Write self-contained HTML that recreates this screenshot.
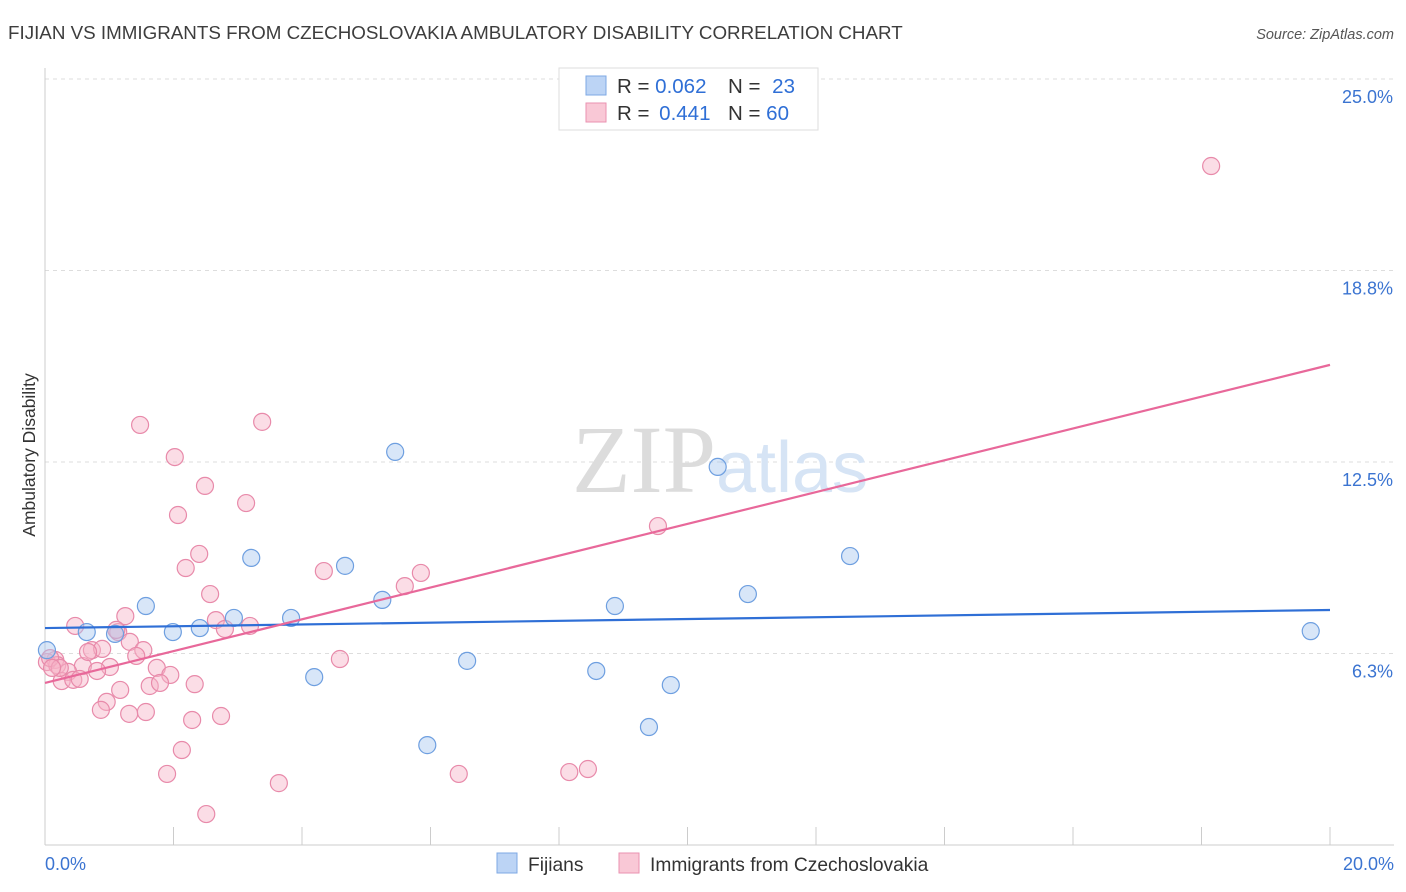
<!DOCTYPE html>
<html><head><meta charset="utf-8"><style>
body{margin:0;background:#fff;font-family:"Liberation Sans",sans-serif;}
#wrap{position:relative;width:1406px;height:892px;overflow:hidden;}
</style></head><body>
<div id="wrap">
<svg id="svg" width="1406" height="892" xmlns="http://www.w3.org/2000/svg">
<text x="8" y="39" font-size="18.8" fill="#3d3d3d">FIJIAN VS IMMIGRANTS FROM CZECHOSLOVAKIA AMBULATORY DISABILITY CORRELATION CHART</text>
<text x="1394" y="39" font-size="14.5" fill="#555" text-anchor="end" font-style="italic">Source: ZipAtlas.com</text>
<text x="35" y="455" font-size="17.5" fill="#333" text-anchor="middle" transform="rotate(-90 35 455)">Ambulatory Disability</text>
<g id="grid"></g>
<text x="720" y="492" font-size="96" fill="#e4e4e4" text-anchor="middle" font-family="Liberation Serif,serif"><tspan fill="#dcdcdc">ZIP</tspan><tspan fill="#d6e4f5" font-family="Liberation Sans,sans-serif" font-size="72">atlas</tspan></text>
<g id="marks"></g>
<g>
<rect x="559" y="68" width="259" height="62" fill="#fff" stroke="#ddd"/>
<rect x="586" y="76" width="20" height="19" fill="#bcd4f5" stroke="#7ea8e4"/>
<rect x="586" y="103" width="20" height="19" fill="#f9c8d6" stroke="#ea92b0"/>
<text x="617" y="93" font-size="20.5" fill="#333">R = <tspan fill="#2f6fd6">0.062</tspan></text>
<text x="728" y="93" font-size="20.5" fill="#333">N = <tspan fill="#2f6fd6" dx="6">23</tspan></text>
<text x="617" y="120" font-size="20.5" fill="#333">R = <tspan fill="#2f6fd6" dx="4">0.441</tspan></text>
<text x="728" y="120" font-size="20.5" fill="#333">N = <tspan fill="#2f6fd6">60</tspan></text>
</g>
<g>
<rect x="497" y="853" width="20" height="20" fill="#bcd4f5" stroke="#7ea8e4"/>
<text x="528" y="871" font-size="19.2" fill="#333">Fijians</text>
<rect x="619" y="853" width="20" height="20" fill="#f9c8d6" stroke="#ea92b0"/>
<text x="650" y="871" font-size="19.2" fill="#333">Immigrants from Czechoslovakia</text>
</g>
</svg>
</div>
<script>
const yTicks=[25,18.75,12.5,6.25];
const yTickLabels=["25.0%","18.8%","12.5%","6.3%"];
const xTicks=[0,2,4,6,8,10,12,14,16,18,20];
const fijianX=[0.03,0.65,1.09,1.57,1.99,2.41,2.94,3.21,3.83,4.19,4.67,5.25,5.45,5.95,6.57,8.58,8.87,9.40,9.74,10.47,10.94,12.53,19.70];
const fijianY=[6.36,6.95,6.89,7.80,6.95,7.08,7.41,9.37,7.41,5.48,9.11,8.00,12.83,3.26,6.01,5.68,7.80,3.85,5.22,12.34,8.19,9.43,6.98];
const czechX=[18.15,9.54,3.38,1.48,2.02,2.49,2.07,3.13,2.40,2.19,2.57,1.25,0.47,1.14,1.32,0.73,0.89,1.53,1.42,0.16,0.03,0.19,0.59,1.01,1.74,0.36,0.81,1.95,0.26,0.44,0.54,1.17,1.63,1.79,2.33,0.96,0.87,1.31,1.57,2.29,2.74,2.13,1.90,2.51,3.64,2.66,2.80,3.19,4.34,4.59,5.60,5.85,6.44,8.16,8.45,0.08,0.23,1.11,0.67,0.11];
const czechY=[22.16,10.41,13.81,13.71,12.66,11.72,10.77,11.16,9.50,9.04,8.19,7.47,7.15,6.95,6.63,6.36,6.40,6.36,6.17,6.04,5.97,5.87,5.84,5.81,5.78,5.65,5.68,5.55,5.35,5.39,5.42,5.06,5.19,5.29,5.25,4.67,4.41,4.28,4.34,4.08,4.21,3.10,2.32,1.01,2.02,7.34,7.05,7.15,8.94,6.07,8.45,8.88,2.32,2.38,2.48,6.10,5.78,7.02,6.30,5.78];
const trendFijian=[7.08,7.67];
const trendCzech=[5.29,15.67];
const NS="http://www.w3.org/2000/svg";
const X=v=>45+v/20*1285;
const Y=v=>845-v/6.25*191.5;
function mk(t,a,p){const e=document.createElementNS(NS,t);for(const k in a)e.setAttribute(k,a[k]);p.appendChild(e);return e;}
const grid=document.getElementById('grid'),marks=document.getElementById('marks');
yTicks.forEach((v,i)=>{
 const l=mk('line',{x1:45,x2:1394,y1:Y(v),y2:Y(v),stroke:'#ddd','stroke-dasharray':'4,4'},grid);
 
 
 const t=mk('text',{x:1393,y:Y(v)+24,'font-size':18,fill:'#3b74d1','text-anchor':'end'},grid);t.textContent=yTickLabels[i];
 
 
});
const ax=mk('line',{x1:45,x2:1394,y1:845,y2:845,stroke:'#ccc'},grid);


const ay=mk('line',{x1:45,x2:45,y1:68,y2:845,stroke:'#ccc'},grid);


xTicks.forEach(v=>{const l=mk('line',{x1:X(v),x2:X(v),y1:827,y2:845,stroke:'#ccc'},grid);
 
 });
const x0=mk('text',{x:45,y:870,'font-size':18,fill:'#3b74d1'},grid);x0.textContent='0.0%';


const x1=mk('text',{x:1394,y:870,'font-size':18,fill:'#3b74d1','text-anchor':'end'},grid);x1.textContent='20.0%';


function pts(xs,ys,fill,stroke,name){xs.forEach((x,i)=>{const c=mk('circle',{cx:X(x),cy:Y(ys[i]),r:8.5,fill:fill,'fill-opacity':0.45,stroke:stroke,'stroke-width':1.2},marks);
 
 });}
pts(czechX,czechY,'#f7b3c8','#e88aaa','czech-point');
pts(fijianX,fijianY,'#a9c8f0','#6e9fe0','fijian-point');
const tl1=mk('line',{x1:X(0),y1:Y(trendFijian[0]),x2:X(20),y2:Y(trendFijian[1]),stroke:'#2f6fd6','stroke-width':2.2},marks);


const tl2=mk('line',{x1:X(0),y1:Y(trendCzech[0]),x2:X(20),y2:Y(trendCzech[1]),stroke:'#e8689a','stroke-width':2.2},marks);


</script>
</body></html>
